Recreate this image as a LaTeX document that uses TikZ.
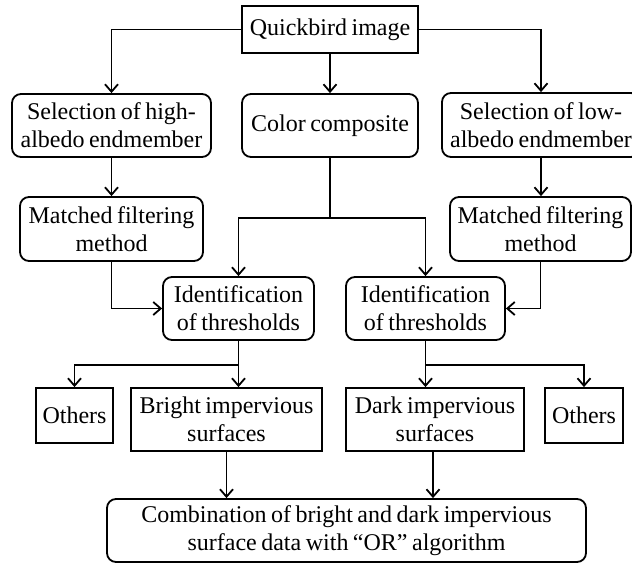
\documentclass[tikz,border=0pt]{standalone}
\usepackage{fontspec}
\setmainfont[WordSpace=0.75]{Liberation Serif}
\usetikzlibrary{arrows.meta,calc}
\tikzset{
  base/.style={draw, line width=1.8pt, align=center, inner sep=0pt,
    font=\fontsize{24}{28}\selectfont},
  sqbox/.style={base},
  rbox/.style={base, rounded corners=9pt},
  conn/.style={line width=1.8pt},
  arr/.style={conn, -{Straight Barb[length=7.5pt,width=13pt,line width=1.8pt]}}
}
\begin{document}
\begin{tikzpicture}[x=1pt,y=-1pt]
\useasboundingbox (0,0) rectangle (632,563);
\node[sqbox, minimum width=176pt, minimum height=47pt] (qb) at (330,29.5) {Quickbird image};
\node[rbox, minimum width=199pt, minimum height=63pt] (selH) at (111.5,125.5) {Selection of high-\\albedo endmember};
\node[rbox, minimum width=176pt, minimum height=63pt] (cc) at (330,125.5) {Color composite};
\node[rbox, minimum width=198pt, minimum height=64pt] (selL) at (541,125) {Selection of low-\\albedo endmember};
\node[rbox, minimum width=183pt, minimum height=64pt] (mfL) at (111.5,229) {Matched filtering\\method};
\node[rbox, minimum width=181pt, minimum height=64pt] (mfR) at (540.5,229) {Matched filtering\\method};
\node[rbox, minimum width=151pt, minimum height=63pt] (idL) at (238.5,308.5) {Identification\\of thresholds};
\node[rbox, minimum width=159pt, minimum height=63pt] (idR) at (425.5,308.5) {Identification\\of thresholds};
\node[sqbox, minimum width=77pt, minimum height=55pt] (othL) at (74.5,415.5) {Others};
\node[sqbox, minimum width=191pt, minimum height=63pt] (bright) at (226.5,419.5) {Bright impervious\\surfaces};
\node[sqbox, minimum width=178pt, minimum height=63pt] (dark) at (435,419.5) {Dark impervious\\surfaces};
\node[sqbox, minimum width=78pt, minimum height=55pt] (othR) at (584,415.5) {Others};
\node[rbox, minimum width=479pt, minimum height=63pt] (comb) at (346.5,530.5) {Combination of bright and dark impervious\\surface data with “OR” algorithm};

\coordinate (ccj) at ($(cc.south)+(0,60)$);
\coordinate (idLj) at ($(idL.south)+(0,24)$);
\coordinate (idRj) at ($(idR.south)+(0,24)$);

\draw[arr] (qb.west) -| (selH.north);
\draw[arr] (qb.south) -- (cc.north);
\draw[arr] (qb.east) -| (selL.north);
\draw[arr] (selH.south) -- (mfL.north);
\draw[arr] (selL.south) -- (selL.south |- mfR.north);
\draw[arr] (mfL.south) |- (idL.west);
\draw[arr] (mfR.south) |- (idR.east);
\draw[conn] (cc.south) -- (ccj);
\draw[arr] (ccj) -| (idL.north);
\draw[arr] (ccj) -| (idR.north);
\draw[conn] (idL.south) -- (idLj);
\draw[arr] (idLj) -| (othL.north);
\draw[arr] (idLj) -- (idLj |- bright.north);
\draw[conn] (idR.south) -- (idRj);
\draw[arr] (idRj) -| (othR.north);
\draw[arr] (idRj) -- (idRj |- dark.north);
\draw[arr] (bright.south) -- (bright.south |- comb.north);
\draw[arr] ($(dark.south)+(-2,0)$) -- ($(dark.south |- comb.north)+(-2,0)$);
\end{tikzpicture}
\end{document}
